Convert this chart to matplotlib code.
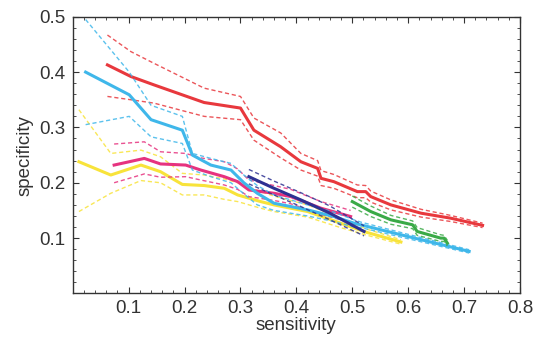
import matplotlib
matplotlib.use('Agg')
import matplotlib.pyplot as plt
from matplotlib.ticker import MultipleLocator

plt.rcParams['font.family'] = ['Liberation Sans', 'DejaVu Sans']

# red
red_x = [0.062, 0.104, 0.145, 0.235, 0.30, 0.324, 0.372, 0.408, 0.438, 0.444, 0.467, 0.509, 0.524, 0.533, 0.569, 0.623, 0.676, 0.733]
red_mid = [0.413, 0.392, 0.377, 0.345, 0.335, 0.295, 0.265, 0.238, 0.226, 0.208, 0.202, 0.184, 0.184, 0.175, 0.160, 0.145, 0.136, 0.123]
red_hi = [0.467, 0.437, 0.416, 0.371, 0.356, 0.317, 0.290, 0.253, 0.240, 0.222, 0.215, 0.196, 0.195, 0.185, 0.169, 0.152, 0.141, 0.127]
red_lo = [0.356, 0.350, 0.344, 0.320, 0.314, 0.277, 0.245, 0.223, 0.212, 0.195, 0.190, 0.173, 0.173, 0.165, 0.151, 0.138, 0.130, 0.119]

# cyan
cyan_x = [0.023, 0.101, 0.14, 0.196, 0.214, 0.247, 0.283, 0.306, 0.33, 0.36, 0.42, 0.467, 0.503, 0.515, 0.599, 0.709]
cyan_mid = [0.400, 0.359, 0.314, 0.295, 0.250, 0.232, 0.223, 0.200, 0.181, 0.163, 0.151, 0.139, 0.127, 0.124, 0.103, 0.076]
cyan_hi = [0.495, 0.400, 0.340, 0.320, 0.253, 0.244, 0.235, 0.214, 0.195, 0.178, 0.160, 0.147, 0.133, 0.129, 0.107, 0.079]
cyan_lo = [0.305, 0.320, 0.283, 0.271, 0.223, 0.211, 0.200, 0.180, 0.160, 0.150, 0.140, 0.130, 0.120, 0.119, 0.099, 0.073]

# yellow
yel_x = [0.011, 0.068, 0.122, 0.157, 0.196, 0.235, 0.271, 0.295, 0.336, 0.36, 0.42, 0.479, 0.527, 0.587]
yel_mid = [0.238, 0.214, 0.232, 0.220, 0.197, 0.195, 0.190, 0.178, 0.166, 0.160, 0.148, 0.127, 0.110, 0.093]
yel_hi = [0.332, 0.253, 0.259, 0.247, 0.217, 0.214, 0.207, 0.200, 0.184, 0.176, 0.160, 0.136, 0.116, 0.097]
yel_lo = [0.148, 0.181, 0.204, 0.200, 0.178, 0.178, 0.170, 0.166, 0.154, 0.148, 0.138, 0.119, 0.105, 0.089]

# magenta
mag_x = [0.074, 0.128, 0.157, 0.202, 0.229, 0.271, 0.295, 0.315, 0.36, 0.39, 0.444, 0.497]
mag_mid = [0.232, 0.244, 0.234, 0.232, 0.223, 0.211, 0.202, 0.187, 0.181, 0.175, 0.154, 0.139]
mag_hi = [0.270, 0.274, 0.256, 0.253, 0.245, 0.238, 0.225, 0.205, 0.195, 0.188, 0.166, 0.150]
mag_lo = [0.200, 0.216, 0.210, 0.211, 0.205, 0.196, 0.188, 0.175, 0.168, 0.162, 0.143, 0.128]

# navy
navy_x = [0.315, 0.36, 0.408, 0.46, 0.521]
navy_mid = [0.211, 0.190, 0.169, 0.145, 0.112]
navy_hi = [0.224, 0.203, 0.182, 0.158, 0.122]
navy_lo = [0.198, 0.178, 0.157, 0.133, 0.104]

# green
grn_x = [0.500, 0.533, 0.569, 0.608, 0.616, 0.658, 0.664, 0.670]
grn_mid = [0.166, 0.148, 0.133, 0.124, 0.112, 0.100, 0.100, 0.091]
grn_hi = [0.176, 0.158, 0.141, 0.131, 0.119, 0.106, 0.105, 0.096]
grn_lo = [0.156, 0.139, 0.125, 0.117, 0.105, 0.094, 0.094, 0.086]

series = [
    (red_x, red_mid, red_hi, red_lo, '#e8383d'),
    (yel_x, yel_mid, yel_hi, yel_lo, '#f8e33a'),
    (mag_x, mag_mid, mag_hi, mag_lo, '#e6337f'),
    (cyan_x, cyan_mid, cyan_hi, cyan_lo, '#3fb7ea'),
    (navy_x, navy_mid, navy_hi, navy_lo, '#2e3192'),
    (grn_x, grn_mid, grn_hi, grn_lo, '#3aaa47'),
]

fig = plt.figure(figsize=(5.35, 3.42), dpi=100)
ax = fig.add_axes([0.136, 0.142, 0.836, 0.809])

for x, mid, hi, lo, c in series:
    ax.plot(x, hi, color=c, lw=1.0, ls=(0, (3, 2)), alpha=0.85)
    ax.plot(x, lo, color=c, lw=1.0, ls=(0, (3, 2)), alpha=0.85)
    ax.plot(x, mid, color=c, lw=2.2)

ax.set_xlim(0, 0.8)
ax.set_ylim(0, 0.5)
ax.set_xticks([0.1, 0.2, 0.3, 0.4, 0.5, 0.6, 0.7, 0.8])
ax.set_yticks([0.1, 0.2, 0.3, 0.4, 0.5])
ax.xaxis.set_minor_locator(MultipleLocator(0.02))
ax.yaxis.set_minor_locator(MultipleLocator(0.02))
ax.tick_params(which='both', direction='in', top=True, right=True,
               labelsize=13.5, labelcolor='#333333', color='#333333')
ax.tick_params(which='major', length=4, width=0.8, pad=5)
ax.tick_params(which='minor', length=2, width=0.6)
for s in ax.spines.values():
    s.set_color('#333333')
    s.set_linewidth(1.0)

ax.set_xlabel('sensitivity', fontsize=13.5, color='#333333', labelpad=0)
ax.set_ylabel('specificity', fontsize=13.5, color='#333333', labelpad=4)

fig.savefig('out.png', dpi=100)
